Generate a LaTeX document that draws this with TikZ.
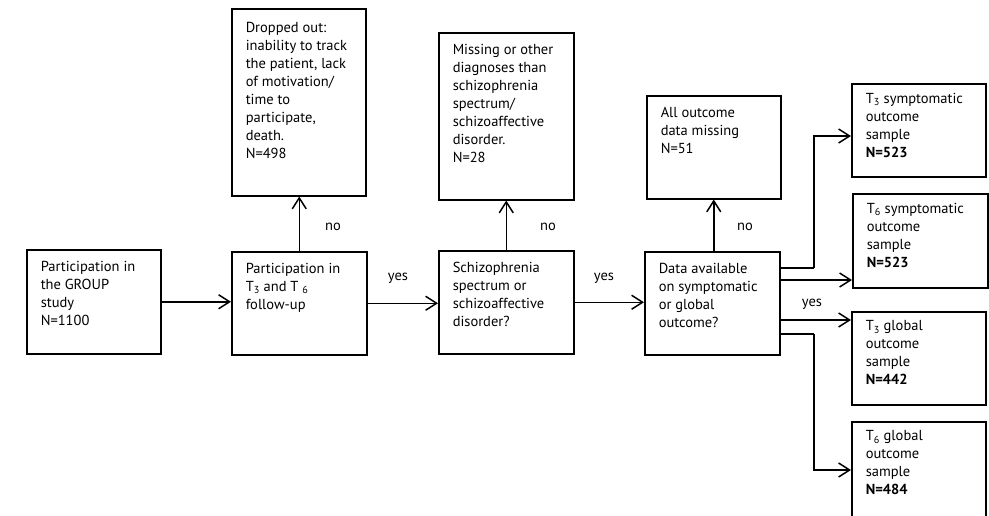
\documentclass[tikz,border=0pt]{standalone}
\usepackage{fontspec}
\setmainfont{PT Sans}
\usetikzlibrary{arrows.meta,calc}

% text block inside a box: fixed width/height, top aligned
\newcommand\boxtext[3]{\parbox[t][#1][t]{#2}{\raggedright\vspace*{11pt}#3}}

\tikzset{
  box/.style={draw, line width=1.5pt, rectangle, anchor=north west,
              inner xsep=14pt, inner ysep=0pt, align=left,
              font=\fontsize{14.5}{18}\selectfont},
  wire/.style={line width=1.5pt},
  arr/.style={wire, -{Straight Barb[length=11pt,width=14pt]}},
  lbl/.style={font=\fontsize{14.5}{18}\selectfont, inner sep=0pt},
}

\begin{document}
\begin{tikzpicture}[x=1pt, y=-1pt]
  \clip (0,0) rectangle (989,515);
  \fill[white] (0,0) rectangle (989,515);

  % main row
  \node[box] (start) at (26,249)
    {\boxtext{104pt}{106pt}{Participation in\\the GROUP\\study\\N=1100}};
  \node[box] (follow) at (231,251)
    {\boxtext{103pt}{107pt}{Participation in\\T\textsubscript{3} and T \textsubscript{6}\\follow-up}};
  \node[box] (diag) at (438,250)
    {\boxtext{103pt}{107pt}{Schizophrenia\\spectrum or\\schizoaffective\\disorder?}};
  \node[box] (data) at (644,251)
    {\boxtext{103pt}{107pt}{Data available\\on symptomatic\\or global\\outcome?}};

  % exclusion boxes
  \node[box] (drop) at (231,8)
    {\boxtext{187pt}{106pt}{\vspace*{2pt}Dropped out:\\inability to track\\the patient, lack\\of motivation/\\time to\\participate,\\death.\\N=498}};
  \node[box] (miss) at (438,32)
    {\boxtext{167pt}{107pt}{Missing or other\\diagnoses than\\schizophrenia\\spectrum/\\schizoaffective\\disorder.\\N=28}};
  \node[box] (none) at (646,95)
    {\boxtext{103pt}{106pt}{All outcome\\data missing\\N=51}};

  % outcome samples
  \node[box] (t3s) at (851,83)
    {\boxtext{93pt}{106pt}{\vspace*{-2pt}T\textsubscript{3} symptomatic\\outcome\\sample\\\textbf{N=523}}};
  \node[box] (t6s) at (852,193)
    {\boxtext{94pt}{107pt}{\vspace*{-2pt}T\textsubscript{6} symptomatic\\outcome\\sample\\\textbf{N=523}}};
  \node[box] (t3g) at (851,311)
    {\boxtext{93pt}{106pt}{\vspace*{-2pt}T\textsubscript{3} global\\outcome\\sample\\\textbf{N=442}}};
  \node[box] (t6g) at (851,421)
    {\boxtext{100pt}{106pt}{\vspace*{-2pt}T\textsubscript{6} global\\outcome\\sample\\\textbf{N=484}}};

  % main flow
  \draw[arr] (start) -- (start -| follow.west);
  \draw[arr] (follow.east) -- (follow.east -| diag.west);
  \draw[arr] (diag.east) -- (diag.east -| data.west);
  \node[lbl] (yes1) at (398,278) {yes};
  \node[lbl] (yes2) at (604,278) {yes};

  % exclusions
  \draw[arr] (follow.north) -- (follow.north |- drop.south);
  \draw[arr] (diag.north) -- (diag.north |- miss.south);
  \draw[arr] (data.north -| none.south) -- (none.south);
  \node[lbl] (no1) at (333,227) {no};
  \node[lbl] (no2) at (548,227) {no};
  \node[lbl] (no3) at (745,227) {no};

  % branches to the outcome samples
  \coordinate (bus) at (814,0);
  \coordinate (o1) at ($(data.north east)+(0,17)$);
  \coordinate (o2) at ($(data.north east)+(0,29)$);
  \coordinate (o3) at ($(data.north east)+(0,69)$);
  \coordinate (o4) at ($(data.north east)+(0,83)$);
  \coordinate (i1) at ($(t3s.north west)+(0,53)$);
  \coordinate (i4) at ($(t6g.north west)+(0,49)$);
  \draw[wire] (o1) -- (o1 -| bus);
  \draw[arr] (o1 -| bus) |- (i1);
  \draw[arr] (o2) -- (o2 -| t6s.west);
  \draw[arr] (o3) -- (o3 -| t3g.west);
  \draw[wire] (o4) -- (o4 -| bus);
  \draw[arr] (o4 -| bus) |- (i4);
  \node[lbl] (yes3) at (812,304) {yes};
\end{tikzpicture}
\end{document}
